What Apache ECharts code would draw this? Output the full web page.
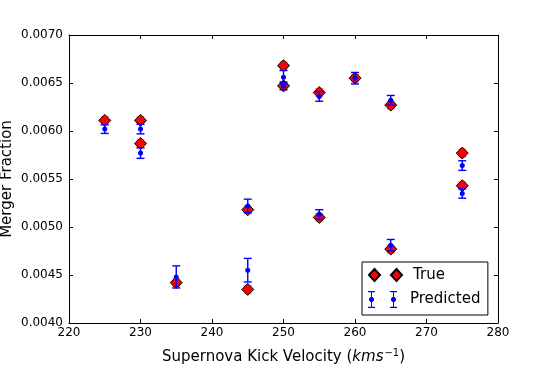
<!DOCTYPE html>
<html>
<head>
<meta charset="utf-8">
<script src="https://cdn.jsdelivr.net/npm/echarts@6/dist/echarts.min.js"></script>
<style>
  html, body { margin: 0; padding: 0; background: #fff; }
  #chart { width: 554px; height: 369px; }
</style>
</head>
<body>
<div id="chart"></div>
<script>
const VELOCITY = [225, 230, 230, 235, 245, 245, 250, 250, 255, 255, 260, 265, 265, 275, 275];
const TRUE_FRAC = [0.00611, 0.00611, 0.00587, 0.00442, 0.00518, 0.00435, 0.00668, 0.00647,
    0.00640, 0.00510, 0.00655, 0.00627, 0.00477, 0.00577, 0.00543];
const TRUE_ERR = [0.00004, 0.00004, 0.00004, 0.00004, 0.00004, 0.00004, 0.00004, 0.00004,
    0.00004, 0.00004, 0.00004, 0.00004, 0.00004, 0.00004, 0.00004];
const PRED_FRAC = [0.00602, 0.00602, 0.00577, 0.00448, 0.00522, 0.00455, 0.00656, 0.00647,
    0.00636, 0.00513, 0.00655, 0.00632, 0.00481, 0.00564, 0.00535];
const PRED_ERR = [0.000045, 0.00005, 0.000055, 0.000115, 0.00007, 0.000123, 0.00007, 0.00004,
    0.00005, 0.00005, 0.00006, 0.00005, 0.00006, 0.00005, 0.00005];

const FONT = 'DejaVu Sans';

const errorBarSeries = (values, errs, color, width, z) => ({
    type: 'custom',
    silent: true,
    z: z,
    data: VELOCITY.map((v, i) => [v, values[i] - errs[i], values[i] + errs[i]]),
    renderItem: (params, api) => {
        const lo = api.coord([api.value(0), api.value(1)]);
        const hi = api.coord([api.value(0), api.value(2)]);
        const cap = 4;
        const style = { stroke: color, lineWidth: width, fill: null };
        return {
            type: 'group',
            children: [
                { type: 'line', shape: { x1: lo[0], y1: lo[1], x2: hi[0], y2: hi[1] }, style },
                { type: 'line', shape: { x1: lo[0] - cap, y1: lo[1], x2: lo[0] + cap, y2: lo[1] }, style },
                { type: 'line', shape: { x1: hi[0] - cap, y1: hi[1], x2: hi[0] + cap, y2: hi[1] }, style }
            ]
        };
    }
});

const frameAxis = {
    axisLine: { show: true, onZero: false, lineStyle: { color: '#000', width: 1 } },
    axisTick: { show: true, inside: true, length: 4, lineStyle: { color: '#000' } },
    splitLine: { show: false }
};

// legend icon: two dots with error bars (pieces kept apart so the fill stays solid)
const dotBar = (x) => `M${x},0h7v1.2h-7Z M${x + 3},1h1v5h-1Z M${x + 3},11h1v5h-1Z M${x},15.8h7v1.2h-7Z ` +
    `M${x + 1},7.5L${x + 2.5},6L${x + 4.5},6L${x + 6},7.5L${x + 6},9.5L${x + 4.5},11L${x + 2.5},11L${x + 1},9.5Z`;

const chart = echarts.init(document.getElementById('chart'));
chart.setOption({
    animation: false,
    backgroundColor: '#fff',
    grid: { left: 69, right: 56, top: 35, bottom: 46, containLabel: false, outerBoundsMode: 'none' },
    xAxis: [{
        ...frameAxis,
        type: 'value', min: 220, max: 280, interval: 10,
        name: '{n|Supernova Kick Velocity (}{i|kms}{s|\u22121}{n|)}',
        nameLocation: 'middle', nameGap: 25, nameMoveOverlap: false,
        nameTextStyle: {
            rich: {
                n: { fontFamily: FONT, fontSize: 15, color: '#000' },
                i: { fontFamily: FONT, fontSize: 15, fontStyle: 'italic', color: '#000' },
                s: { fontFamily: FONT, fontSize: 10, color: '#000', padding: [0, 0, 9, 1] }
            }
        },
        axisLabel: { margin: 4, color: '#000', fontFamily: FONT, fontSize: 12 }
    }, {
        ...frameAxis,
        type: 'value', min: 220, max: 280, interval: 10, position: 'top',
        axisLabel: { show: false }
    }],
    yAxis: [{
        ...frameAxis,
        type: 'value', min: 0.004, max: 0.007, interval: 0.0005,
        name: 'Merger Fraction', nameLocation: 'middle', nameGap: 54, nameMoveOverlap: false,
        nameTextStyle: { fontFamily: FONT, fontSize: 15, color: '#000' },
        axisLabel: { margin: 6, color: '#000', fontFamily: FONT, fontSize: 12, formatter: v => v.toFixed(4) }
    }, {
        ...frameAxis,
        type: 'value', min: 0.004, max: 0.007, interval: 0.0005, position: 'right',
        axisLabel: { show: false }
    }],
    legend: [{
        left: 362, top: 262, orient: 'vertical',
        padding: [5, 43, 32, 6],
        borderColor: '#000', borderWidth: 1,
        itemWidth: 33, itemHeight: 12,
        textStyle: { fontFamily: FONT, fontSize: 15, color: '#000', lineHeight: 16, padding: [0, 0, 0, 6] },
        data: [{ name: 'True', icon: 'path://M0,6L5.5,0L11,6L5.5,12Z M22,6L27.5,0L33,6L27.5,12Z' }]
    }, {
        left: 368, top: 291, orient: 'vertical', padding: 0,
        itemWidth: 33, itemHeight: 17,
        textStyle: { fontFamily: FONT, fontSize: 15, color: '#000', lineHeight: 17, padding: [0, 0, 0, 6] },
        data: [{ name: 'Predicted', icon: 'path://' + dotBar(2) + ' ' + dotBar(24) }]
    }],
    series: [
        errorBarSeries(TRUE_FRAC, TRUE_ERR, 'rgba(255,0,0,0.45)', 1.3, 2),
        {
            name: 'True', type: 'scatter', z: 3,
            symbol: 'diamond', symbolSize: 12,
            itemStyle: { color: '#ff0000', borderColor: '#000', borderWidth: 1, opacity: 1 },
            data: VELOCITY.map((v, i) => [v, TRUE_FRAC[i]])
        },
        errorBarSeries(PRED_FRAC, PRED_ERR, '#0000ff', 1.4, 4),
        {
            name: 'Predicted', type: 'scatter', z: 5,
            symbol: 'circle', symbolSize: 5,
            itemStyle: { color: '#0000ff', opacity: 1 },
            data: VELOCITY.map((v, i) => [v, PRED_FRAC[i]])
        }
    ]
});
</script>
</body>
</html>
